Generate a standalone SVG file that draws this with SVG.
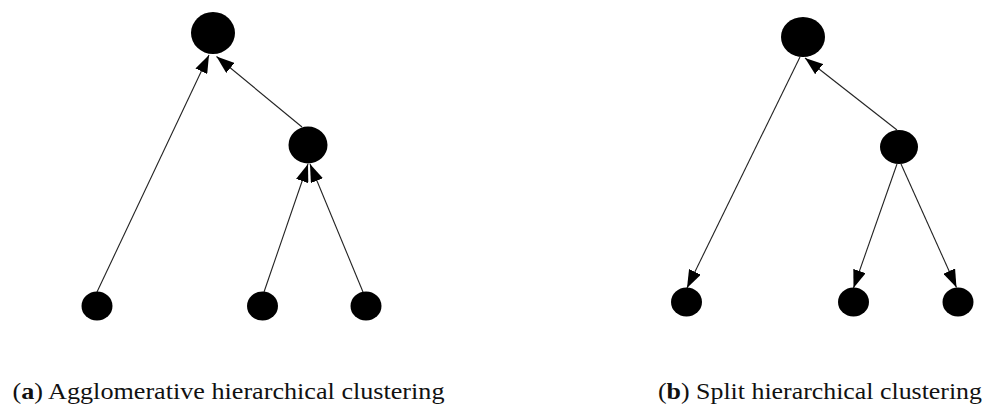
<svg xmlns="http://www.w3.org/2000/svg" width="986" height="407" viewBox="0 0 986 407">
<style>
.node{fill:#000}
.edge{stroke:#222;stroke-width:1.1;fill:none;marker-end:url(#ah)}
.cap{font-family:"Liberation Serif","DejaVu Serif",serif;font-size:24px;fill:#111}
</style>
<defs>
<marker id="ah" markerUnits="userSpaceOnUse" markerWidth="19" markerHeight="13" refX="18" refY="6.5" orient="auto">
<path d="M0,0 L18,6.5 L0,13 z" fill="#000"/>
</marker>
</defs>
<rect width="986" height="407" fill="#fff"/>
<g id="edges">
<line class="edge" x1="97" y1="292" x2="209" y2="55"/>
<line class="edge" x1="302" y1="127" x2="216.5" y2="56.5"/>
<line class="edge" x1="264" y1="292" x2="308" y2="164"/>
<line class="edge" x1="363" y1="292" x2="310" y2="164"/>
<line class="edge" x1="897" y1="130" x2="805" y2="58"/>
<line class="edge" x1="800" y1="57" x2="687" y2="288"/>
<line class="edge" x1="897" y1="164" x2="853.5" y2="288"/>
<line class="edge" x1="901" y1="164" x2="956.5" y2="287.5"/>
</g>
<g id="a_root"><ellipse class="node" cx="213" cy="33" rx="22" ry="21"/></g>
<g id="a_mid"><ellipse class="node" cx="308" cy="145" rx="19.5" ry="18.5"/></g>
<g id="a_leaf1"><ellipse class="node" cx="97" cy="306" rx="15.5" ry="14.5"/></g>
<g id="a_leaf2"><ellipse class="node" cx="262.5" cy="306" rx="15.5" ry="14.5"/></g>
<g id="a_leaf3"><ellipse class="node" cx="366" cy="306" rx="15.5" ry="14.5"/></g>
<g id="b_root"><ellipse class="node" cx="803" cy="37" rx="22" ry="20"/></g>
<g id="b_mid"><ellipse class="node" cx="899" cy="147" rx="19" ry="17"/></g>
<g id="b_leaf1"><ellipse class="node" cx="686.5" cy="302" rx="15.5" ry="14.5"/></g>
<g id="b_leaf2"><ellipse class="node" cx="853.5" cy="302" rx="15.5" ry="14.5"/></g>
<g id="b_leaf3"><ellipse class="node" cx="958" cy="302" rx="15.5" ry="14.5"/></g>
<g id="captions">
<text class="cap" x="12.5" y="399" textLength="432" lengthAdjust="spacingAndGlyphs">(<tspan font-weight="bold">a</tspan>) Agglomerative hierarchical clustering</text>
<text class="cap" x="658" y="399" textLength="324" lengthAdjust="spacingAndGlyphs">(<tspan font-weight="bold">b</tspan>) Split hierarchical clustering</text>
</g>
</svg>
